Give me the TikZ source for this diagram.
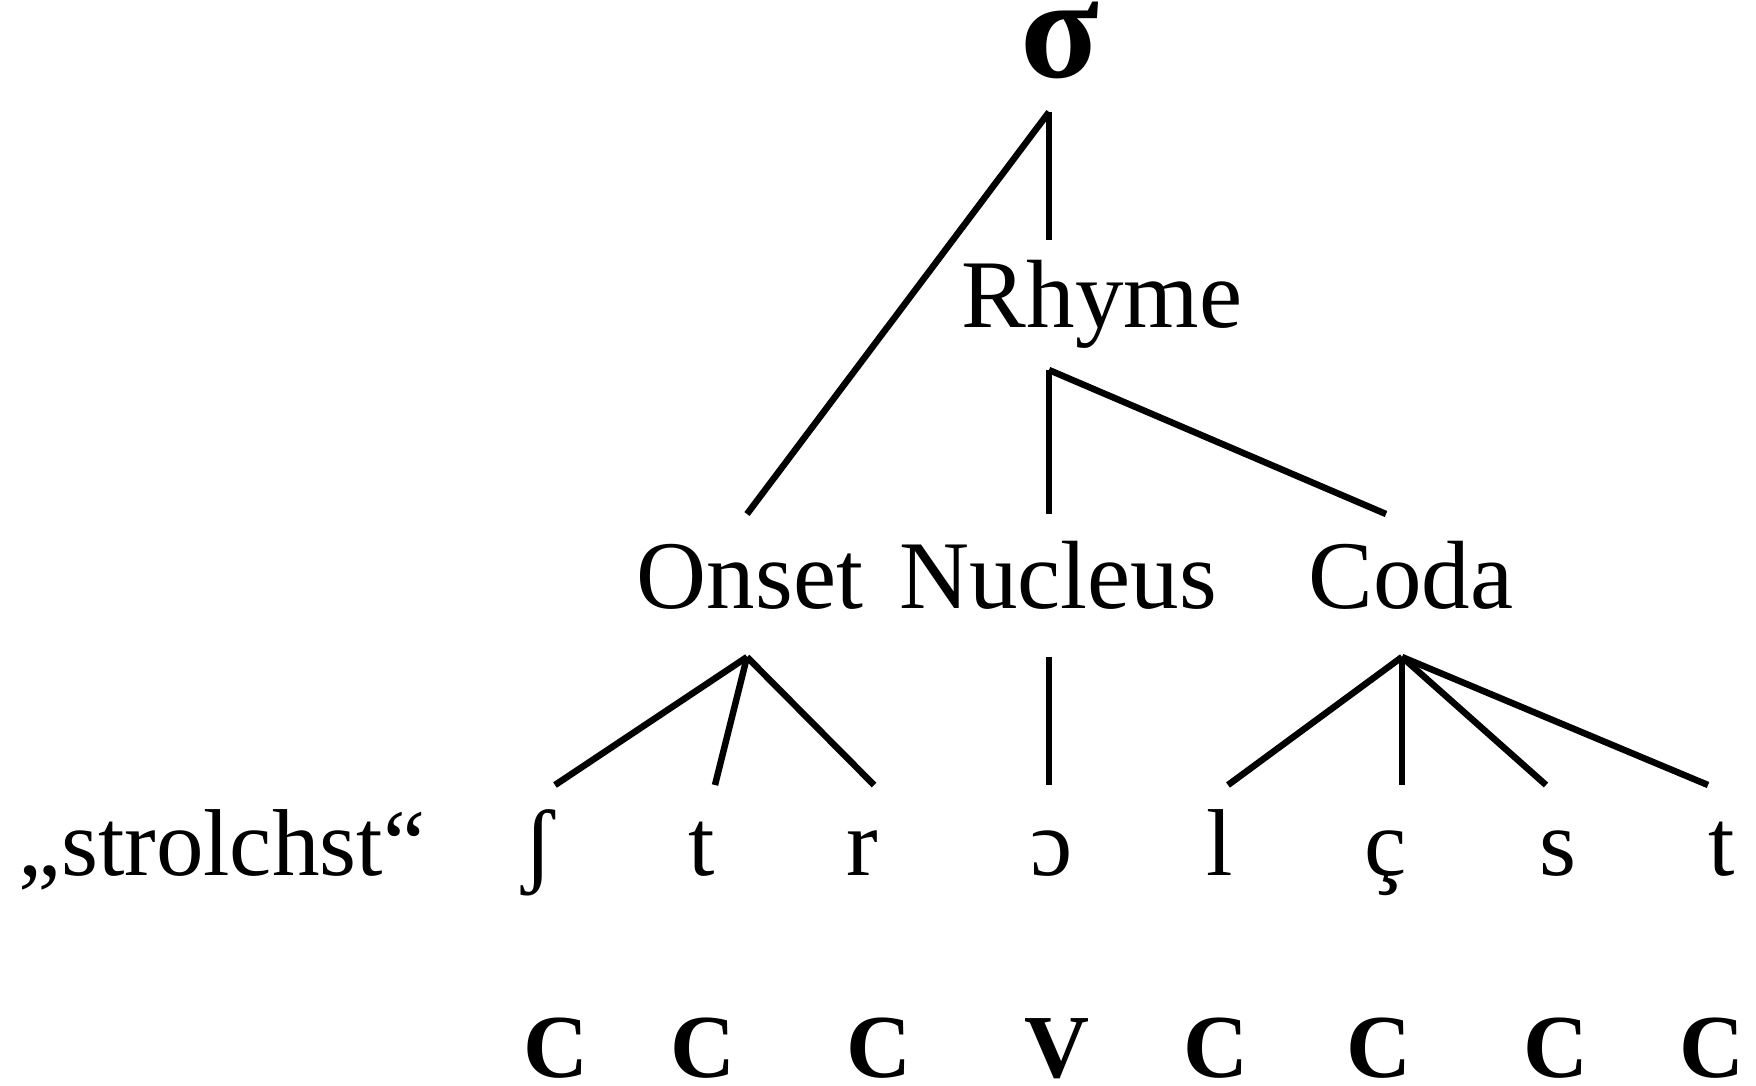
\documentclass[tikz,border=0pt]{standalone}
\usepackage{fontspec}
\setmainfont{Liberation Serif}
\begin{document}
\begin{tikzpicture}[x=1pt,y=-1pt,
  sig/.style={inner sep=0pt, anchor=base, font=\fontsize{145}{160}\selectfont\bfseries},
  lbl/.style={inner sep=0pt, anchor=base, font=\fontsize{97}{110}\selectfont},
  seg/.style={inner sep=0pt, anchor=base, font=\fontsize{95}{110}\selectfont},
  cv/.style={inner sep=0pt, anchor=base, font=\fontsize{90}{100}\selectfont\bfseries},
  branch/.style={line width=6.5pt}]
\useasboundingbox (0,0) rectangle (1756,1085);
% labels
\node[sig] (sigma) at (1060,77) {σ};
\node[lbl] (rhyme) at (1102,327) {Rhyme};
\node[lbl] (onset) at (750,608) {Onset};
\node[lbl] (nucleus) at (1058,608) {Nucleus};
\node[lbl] (coda) at (1411,608) {Coda};
% segments
\node[seg] (word) at (222,875) {„strolchst“};
\node[seg] (sh) at (538,875) {ʃ};
\node[seg] (t1) at (702,875) {t};
\node[seg] (r) at (862,875) {r};
\node[seg] (oo) at (1052,875) {ɔ};
\node[seg] (l) at (1220,875) {l};
\node[seg] (cc) at (1386,875) {ç};
\node[seg] (s) at (1558,875) {s};
\node[seg] (t2) at (1722,875) {t};
% CV tier
\node[cv] (c1) at (556,1077) {C};
\node[cv] (c2) at (703,1077) {C};
\node[cv] (c3) at (879,1077) {C};
\node[cv] (v4) at (1057,1077) {V};
\node[cv] (c5) at (1216,1077) {C};
\node[cv] (c6) at (1379,1077) {C};
\node[cv] (c7) at (1556,1077) {C};
\node[cv] (c8) at (1712,1077) {C};
% line ends
\coordinate (sigma-foot) at (1049,112);
\coordinate (rhyme-head) at (1049,240);
\coordinate (onset-head) at (747,514);
\coordinate (rhyme-foot) at (1049,370);
\coordinate (nucleus-head) at (1049,514);
\coordinate (coda-head) at (1386,514);
\coordinate (onset-foot) at (747,657);
\coordinate (nucleus-foot) at (1049,657);
\coordinate (coda-foot) at (1402,657);
\coordinate (sh-head) at (555,785);
\coordinate (t1-head) at (715,785);
\coordinate (r-head) at (874,785);
\coordinate (oo-head) at (1049,785);
\coordinate (l-head) at (1228,785);
\coordinate (cc-head) at (1402,785);
\coordinate (s-head) at (1546,785);
\coordinate (t2-head) at (1708,785);
% branches
\draw[branch] (sigma-foot) -- (rhyme-head);
\draw[branch] (sigma-foot) -- (onset-head);
\draw[branch] (rhyme-foot) -- (nucleus-head);
\draw[branch] (rhyme-foot) -- (coda-head);
\draw[branch] (onset-foot) -- (sh-head);
\draw[branch] (onset-foot) -- (t1-head);
\draw[branch] (onset-foot) -- (r-head);
\draw[branch] (nucleus-foot) -- (oo-head);
\draw[branch] (coda-foot) -- (l-head);
\draw[branch] (coda-foot) -- (cc-head);
\draw[branch] (coda-foot) -- (s-head);
\draw[branch] (coda-foot) -- (t2-head);
\end{tikzpicture}
\end{document}
